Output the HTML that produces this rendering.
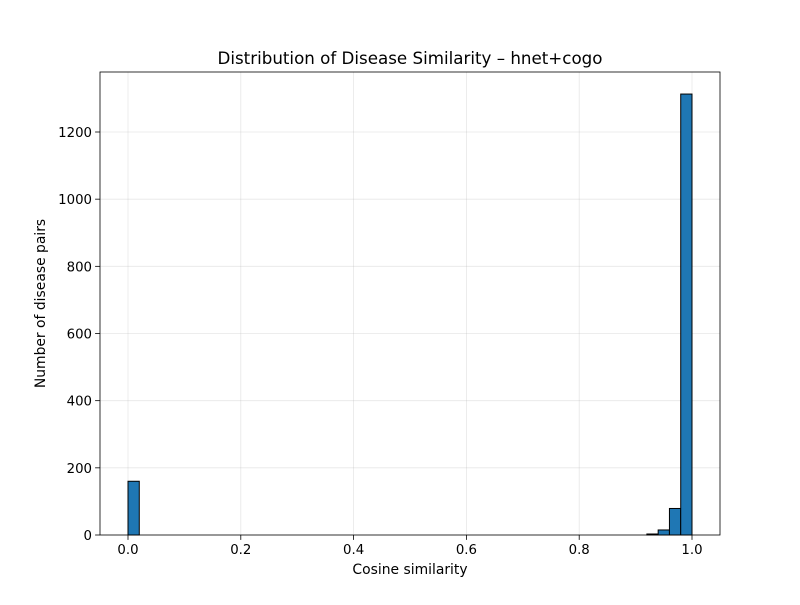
<!DOCTYPE html>
<html><head><meta charset="utf-8"><style>
body{margin:0;background:#fff;font-family:"Liberation Sans","DejaVu Sans",sans-serif}
text{font-family:"DejaVu Sans","Liberation Sans",sans-serif}
</style></head><body>
<svg id="chart" width="800" height="600" xmlns="http://www.w3.org/2000/svg">
<rect width="800" height="600" fill="#fff"/>
<text x="410" y="64" font-size="16.7" text-anchor="middle">Distribution of Disease Similarity – hnet+cogo</text>
<text x="410" y="574" font-size="13.9" text-anchor="middle">Cosine similarity</text>
<text transform="translate(45,303.5) rotate(-90)" font-size="13.9" text-anchor="middle">Number of disease pairs</text>
<g id="grid"></g><g id="bars"></g><g id="axes"></g>
</svg>
<script>
const binStart = 0, binWidth = 0.02;
const counts = [160,0,0,0,0,0,0,0,0,0, 0,0,0,0,0,0,0,0,0,0, 0,0,0,0,0,0,0,0,0,0, 0,0,0,0,0,0,0,0,0,0, 0,0,0,0,0,0,3,15,79,1313];
const xTicks = [0.0,0.2,0.4,0.6,0.8,1.0];
const xTickLabels = ["0.0","0.2","0.4","0.6","0.8","1.0"];
const yTicks = [0,200,400,600,800,1000,1200];
const yTickLabels = ["0","200","400","600","800","1000","1200"];
const L=100,R=720,T=72,B=535;
const sx=v=>128+v*564;
const sy=v=>B-v*(403/1200);
const NS="http://www.w3.org/2000/svg";
function mk(tag,attrs,parent){const e=document.createElementNS(NS,tag);for(const k in attrs)e.setAttribute(k,attrs[k]);parent.appendChild(e);return e;}
const grid=document.getElementById('grid'),bars=document.getElementById('bars'),axes=document.getElementById('axes');
xTicks.forEach((t,i)=>{const x=sx(t);
 const g=mk('line',{x1:x,x2:x,y1:T,y2:B,stroke:'#b0b0b0','stroke-opacity':0.3,'stroke-width':0.8},grid);
 
 
 const tk=mk('line',{x1:x,x2:x,y1:B,y2:B+4.9,stroke:'#000','stroke-width':0.8},axes);
 
 
 const tx=mk('text',{x:x,y:B+19,'font-size':13.3,'text-anchor':'middle'},axes);tx.textContent=xTickLabels[i];
 
 
});
yTicks.forEach((t,i)=>{const y=sy(t);
 const g=mk('line',{x1:L,x2:R,y1:y,y2:y,stroke:'#b0b0b0','stroke-opacity':0.3,'stroke-width':0.8},grid);
 
 
 const tk=mk('line',{x1:L-4.9,x2:L,y1:y,y2:y,stroke:'#000','stroke-width':0.8},axes);
 
 
 const tx=mk('text',{x:L-8,y:y+5,'font-size':13.3,'text-anchor':'end'},axes);tx.textContent=yTickLabels[i];
 
 
});
counts.forEach((c,i)=>{const x0=sx(binStart+i*binWidth),x1=sx(binStart+(i+1)*binWidth);
 const r=mk('rect',{x:x0,y:sy(c),width:x1-x0,height:B-sy(c),fill:'#1f77b4',stroke:'#000','stroke-width':1},bars);
 
 
});
const f=mk('rect',{x:L,y:T,width:R-L,height:B-T,fill:'none',stroke:'#000','stroke-width':0.8},axes);


</script>
</body></html>
